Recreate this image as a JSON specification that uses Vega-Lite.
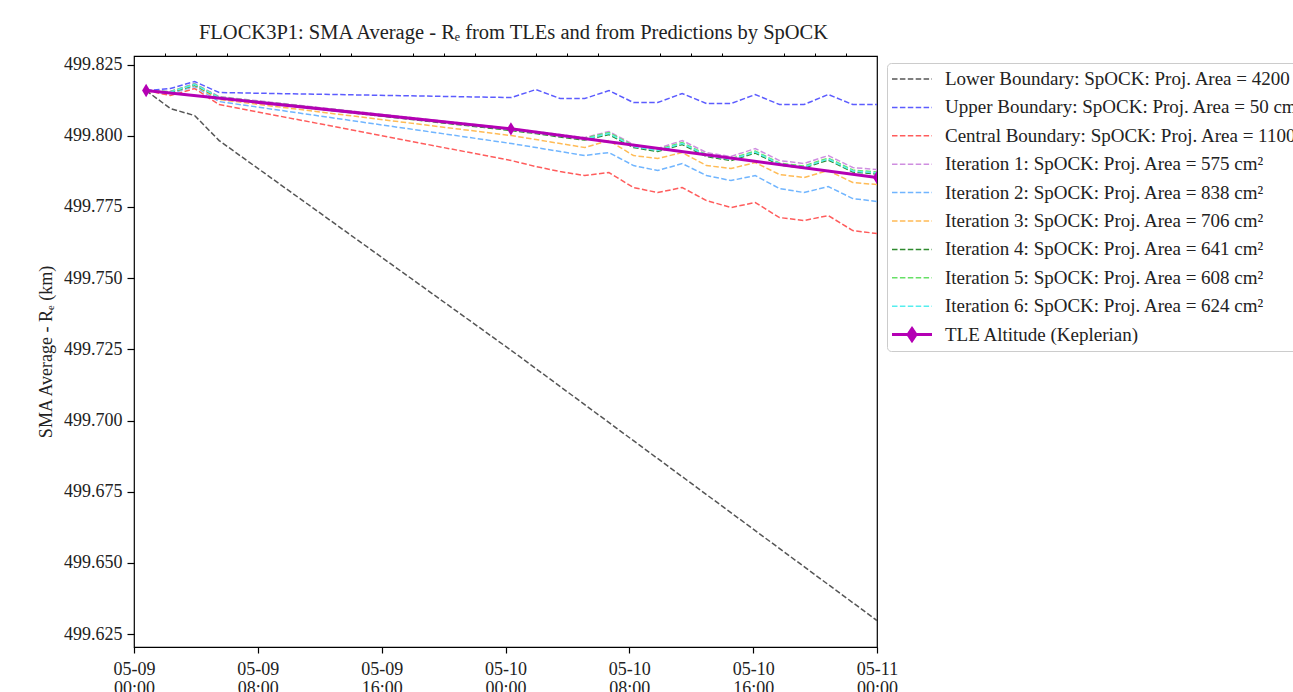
{
  "$schema": "https://vega.github.io/schema/vega-lite/v6.json",
  "width": 743,
  "height": 591,
  "autosize": {"type": "none"},
  "padding": {"left": 134, "top": 56, "right": 416, "bottom": 45},
  "background": "white",
  "title": {"text": "FLOCK3P1: SMA Average - Rₑ from TLEs and from Predictions by SpOCK", "font": "Liberation Serif", "fontSize": 20.5, "fontWeight": "normal", "color": "#222", "anchor": "middle", "frame": "group", "offset": 9, "dx": 8},
  "datasets": {
    "names": [
      {"code": "L", "name": "Lower Boundary: SpOCK: Proj. Area = 4200 cm²"},
      {"code": "U", "name": "Upper Boundary: SpOCK: Proj. Area = 50 cm²"},
      {"code": "C", "name": "Central Boundary: SpOCK: Proj. Area = 1100 cm²"},
      {"code": "I1", "name": "Iteration 1: SpOCK: Proj. Area = 575 cm²"},
      {"code": "I2", "name": "Iteration 2: SpOCK: Proj. Area = 838 cm²"},
      {"code": "I3", "name": "Iteration 3: SpOCK: Proj. Area = 706 cm²"},
      {"code": "I4", "name": "Iteration 4: SpOCK: Proj. Area = 641 cm²"},
      {"code": "I5", "name": "Iteration 5: SpOCK: Proj. Area = 608 cm²"},
      {"code": "I6", "name": "Iteration 6: SpOCK: Proj. Area = 624 cm²"},
      {"code": "T", "name": "TLE Altitude (Keplerian)"}
    ],
    "rows": [
      {"s": "L", "t": "2018-05-09T00:47", "v": 499.81587},
      {"s": "L", "t": "2018-05-09T02:21", "v": 499.80955},
      {"s": "L", "t": "2018-05-09T03:55", "v": 499.80709},
      {"s": "L", "t": "2018-05-09T05:30", "v": 499.79831},
      {"s": "L", "t": "2018-05-10T00:23", "v": 499.72459},
      {"s": "L", "t": "2018-05-11T00:00", "v": 499.62979},

      {"s": "U", "t": "2018-05-09T00:47", "v": 499.81587},
      {"s": "U", "t": "2018-05-09T02:21", "v": 499.81657},
      {"s": "U", "t": "2018-05-09T03:55", "v": 499.81903},
      {"s": "U", "t": "2018-05-09T05:30", "v": 499.81517},
      {"s": "U", "t": "2018-05-10T00:23", "v": 499.81341},
      {"s": "U", "t": "2018-05-10T01:58", "v": 499.81622},
      {"s": "U", "t": "2018-05-10T03:32", "v": 499.81306},
      {"s": "U", "t": "2018-05-10T05:07", "v": 499.81306},
      {"s": "U", "t": "2018-05-10T06:41", "v": 499.81587},
      {"s": "U", "t": "2018-05-10T08:16", "v": 499.81166},
      {"s": "U", "t": "2018-05-10T09:50", "v": 499.81166},
      {"s": "U", "t": "2018-05-10T11:25", "v": 499.81482},
      {"s": "U", "t": "2018-05-10T12:59", "v": 499.81131},
      {"s": "U", "t": "2018-05-10T14:34", "v": 499.81131},
      {"s": "U", "t": "2018-05-10T16:08", "v": 499.81447},
      {"s": "U", "t": "2018-05-10T17:42", "v": 499.81096},
      {"s": "U", "t": "2018-05-10T19:17", "v": 499.81096},
      {"s": "U", "t": "2018-05-10T20:51", "v": 499.81447},
      {"s": "U", "t": "2018-05-10T22:26", "v": 499.81096},
      {"s": "U", "t": "2018-05-11T00:00", "v": 499.81096},

      {"s": "C", "t": "2018-05-09T00:47", "v": 499.81587},
      {"s": "C", "t": "2018-05-09T02:21", "v": 499.81412},
      {"s": "C", "t": "2018-05-09T03:55", "v": 499.81657},
      {"s": "C", "t": "2018-05-09T05:30", "v": 499.81096},
      {"s": "C", "t": "2018-05-10T00:23", "v": 499.79129},
      {"s": "C", "t": "2018-05-10T01:58", "v": 499.78919},
      {"s": "C", "t": "2018-05-10T03:32", "v": 499.78743},
      {"s": "C", "t": "2018-05-10T05:07", "v": 499.78603},
      {"s": "C", "t": "2018-05-10T06:41", "v": 499.78708},
      {"s": "C", "t": "2018-05-10T08:16", "v": 499.78182},
      {"s": "C", "t": "2018-05-10T09:50", "v": 499.78006},
      {"s": "C", "t": "2018-05-10T11:25", "v": 499.78182},
      {"s": "C", "t": "2018-05-10T12:59", "v": 499.77725},
      {"s": "C", "t": "2018-05-10T14:34", "v": 499.77479},
      {"s": "C", "t": "2018-05-10T16:08", "v": 499.77655},
      {"s": "C", "t": "2018-05-10T17:42", "v": 499.77128},
      {"s": "C", "t": "2018-05-10T19:17", "v": 499.77023},
      {"s": "C", "t": "2018-05-10T20:51", "v": 499.77198},
      {"s": "C", "t": "2018-05-10T22:26", "v": 499.76672},
      {"s": "C", "t": "2018-05-11T00:00", "v": 499.76566},

      {"s": "I1", "t": "2018-05-09T00:47", "v": 499.81587},
      {"s": "I1", "t": "2018-05-09T02:21", "v": 499.81552},
      {"s": "I1", "t": "2018-05-09T03:55", "v": 499.81833},
      {"s": "I1", "t": "2018-05-09T05:30", "v": 499.81376},
      {"s": "I1", "t": "2018-05-10T00:23", "v": 499.80253},
      {"s": "I1", "t": "2018-05-10T01:58", "v": 499.80148},
      {"s": "I1", "t": "2018-05-10T03:32", "v": 499.80042},
      {"s": "I1", "t": "2018-05-10T05:07", "v": 499.79937},
      {"s": "I1", "t": "2018-05-10T06:41", "v": 499.80148},
      {"s": "I1", "t": "2018-05-10T08:16", "v": 499.79691},
      {"s": "I1", "t": "2018-05-10T09:50", "v": 499.79551},
      {"s": "I1", "t": "2018-05-10T11:25", "v": 499.79832},
      {"s": "I1", "t": "2018-05-10T12:59", "v": 499.79410},
      {"s": "I1", "t": "2018-05-10T14:34", "v": 499.79270},
      {"s": "I1", "t": "2018-05-10T16:08", "v": 499.79551},
      {"s": "I1", "t": "2018-05-10T17:42", "v": 499.79129},
      {"s": "I1", "t": "2018-05-10T19:17", "v": 499.79024},
      {"s": "I1", "t": "2018-05-10T20:51", "v": 499.79305},
      {"s": "I1", "t": "2018-05-10T22:26", "v": 499.78884},
      {"s": "I1", "t": "2018-05-11T00:00", "v": 499.78813},

      {"s": "I2", "t": "2018-05-09T00:47", "v": 499.81587},
      {"s": "I2", "t": "2018-05-09T02:21", "v": 499.81482},
      {"s": "I2", "t": "2018-05-09T03:55", "v": 499.81728},
      {"s": "I2", "t": "2018-05-09T05:30", "v": 499.81201},
      {"s": "I2", "t": "2018-05-10T00:23", "v": 499.79726},
      {"s": "I2", "t": "2018-05-10T01:58", "v": 499.79586},
      {"s": "I2", "t": "2018-05-10T03:32", "v": 499.79445},
      {"s": "I2", "t": "2018-05-10T05:07", "v": 499.79305},
      {"s": "I2", "t": "2018-05-10T06:41", "v": 499.79410},
      {"s": "I2", "t": "2018-05-10T08:16", "v": 499.78954},
      {"s": "I2", "t": "2018-05-10T09:50", "v": 499.78778},
      {"s": "I2", "t": "2018-05-10T11:25", "v": 499.79024},
      {"s": "I2", "t": "2018-05-10T12:59", "v": 499.78603},
      {"s": "I2", "t": "2018-05-10T14:34", "v": 499.78427},
      {"s": "I2", "t": "2018-05-10T16:08", "v": 499.78603},
      {"s": "I2", "t": "2018-05-10T17:42", "v": 499.78146},
      {"s": "I2", "t": "2018-05-10T19:17", "v": 499.78006},
      {"s": "I2", "t": "2018-05-10T20:51", "v": 499.78217},
      {"s": "I2", "t": "2018-05-10T22:26", "v": 499.77795},
      {"s": "I2", "t": "2018-05-11T00:00", "v": 499.77690},

      {"s": "I3", "t": "2018-05-09T00:47", "v": 499.81587},
      {"s": "I3", "t": "2018-05-09T02:21", "v": 499.81517},
      {"s": "I3", "t": "2018-05-09T03:55", "v": 499.81763},
      {"s": "I3", "t": "2018-05-09T05:30", "v": 499.81271},
      {"s": "I3", "t": "2018-05-10T00:23", "v": 499.80007},
      {"s": "I3", "t": "2018-05-10T01:58", "v": 499.79867},
      {"s": "I3", "t": "2018-05-10T03:32", "v": 499.79726},
      {"s": "I3", "t": "2018-05-10T05:07", "v": 499.79586},
      {"s": "I3", "t": "2018-05-10T06:41", "v": 499.79832},
      {"s": "I3", "t": "2018-05-10T08:16", "v": 499.79305},
      {"s": "I3", "t": "2018-05-10T09:50", "v": 499.79200},
      {"s": "I3", "t": "2018-05-10T11:25", "v": 499.79410},
      {"s": "I3", "t": "2018-05-10T12:59", "v": 499.78954},
      {"s": "I3", "t": "2018-05-10T14:34", "v": 499.78849},
      {"s": "I3", "t": "2018-05-10T16:08", "v": 499.79059},
      {"s": "I3", "t": "2018-05-10T17:42", "v": 499.78638},
      {"s": "I3", "t": "2018-05-10T19:17", "v": 499.78533},
      {"s": "I3", "t": "2018-05-10T20:51", "v": 499.78778},
      {"s": "I3", "t": "2018-05-10T22:26", "v": 499.78357},
      {"s": "I3", "t": "2018-05-11T00:00", "v": 499.78287},

      {"s": "I4", "t": "2018-05-09T00:47", "v": 499.81587},
      {"s": "I4", "t": "2018-05-09T02:21", "v": 499.81517},
      {"s": "I4", "t": "2018-05-09T03:55", "v": 499.81780},
      {"s": "I4", "t": "2018-05-09T05:30", "v": 499.81324},
      {"s": "I4", "t": "2018-05-10T00:23", "v": 499.80183},
      {"s": "I4", "t": "2018-05-10T01:58", "v": 499.80077},
      {"s": "I4", "t": "2018-05-10T03:32", "v": 499.79955},
      {"s": "I4", "t": "2018-05-10T05:07", "v": 499.79849},
      {"s": "I4", "t": "2018-05-10T06:41", "v": 499.80042},
      {"s": "I4", "t": "2018-05-10T08:16", "v": 499.79586},
      {"s": "I4", "t": "2018-05-10T09:50", "v": 499.79445},
      {"s": "I4", "t": "2018-05-10T11:25", "v": 499.79691},
      {"s": "I4", "t": "2018-05-10T12:59", "v": 499.79270},
      {"s": "I4", "t": "2018-05-10T14:34", "v": 499.79129},
      {"s": "I4", "t": "2018-05-10T16:08", "v": 499.79393},
      {"s": "I4", "t": "2018-05-10T17:42", "v": 499.78971},
      {"s": "I4", "t": "2018-05-10T19:17", "v": 499.78866},
      {"s": "I4", "t": "2018-05-10T20:51", "v": 499.79147},
      {"s": "I4", "t": "2018-05-10T22:26", "v": 499.78726},
      {"s": "I4", "t": "2018-05-11T00:00", "v": 499.78656},

      {"s": "I5", "t": "2018-05-09T00:47", "v": 499.81587},
      {"s": "I5", "t": "2018-05-09T02:21", "v": 499.81552},
      {"s": "I5", "t": "2018-05-09T03:55", "v": 499.81815},
      {"s": "I5", "t": "2018-05-09T05:30", "v": 499.81359},
      {"s": "I5", "t": "2018-05-10T00:23", "v": 499.80235},
      {"s": "I5", "t": "2018-05-10T01:58", "v": 499.80130},
      {"s": "I5", "t": "2018-05-10T03:32", "v": 499.80025},
      {"s": "I5", "t": "2018-05-10T05:07", "v": 499.79919},
      {"s": "I5", "t": "2018-05-10T06:41", "v": 499.80113},
      {"s": "I5", "t": "2018-05-10T08:16", "v": 499.79656},
      {"s": "I5", "t": "2018-05-10T09:50", "v": 499.79516},
      {"s": "I5", "t": "2018-05-10T11:25", "v": 499.79761},
      {"s": "I5", "t": "2018-05-10T12:59", "v": 499.79340},
      {"s": "I5", "t": "2018-05-10T14:34", "v": 499.79200},
      {"s": "I5", "t": "2018-05-10T16:08", "v": 499.79463},
      {"s": "I5", "t": "2018-05-10T17:42", "v": 499.79042},
      {"s": "I5", "t": "2018-05-10T19:17", "v": 499.78936},
      {"s": "I5", "t": "2018-05-10T20:51", "v": 499.79217},
      {"s": "I5", "t": "2018-05-10T22:26", "v": 499.78796},
      {"s": "I5", "t": "2018-05-11T00:00", "v": 499.78726},

      {"s": "I6", "t": "2018-05-09T00:47", "v": 499.81587},
      {"s": "I6", "t": "2018-05-09T02:21", "v": 499.81534},
      {"s": "I6", "t": "2018-05-09T03:55", "v": 499.81798},
      {"s": "I6", "t": "2018-05-09T05:30", "v": 499.81341},
      {"s": "I6", "t": "2018-05-10T00:23", "v": 499.80218},
      {"s": "I6", "t": "2018-05-10T01:58", "v": 499.80113},
      {"s": "I6", "t": "2018-05-10T03:32", "v": 499.79990},
      {"s": "I6", "t": "2018-05-10T05:07", "v": 499.79884},
      {"s": "I6", "t": "2018-05-10T06:41", "v": 499.80077},
      {"s": "I6", "t": "2018-05-10T08:16", "v": 499.79621},
      {"s": "I6", "t": "2018-05-10T09:50", "v": 499.79481},
      {"s": "I6", "t": "2018-05-10T11:25", "v": 499.79726},
      {"s": "I6", "t": "2018-05-10T12:59", "v": 499.79305},
      {"s": "I6", "t": "2018-05-10T14:34", "v": 499.79165},
      {"s": "I6", "t": "2018-05-10T16:08", "v": 499.79428},
      {"s": "I6", "t": "2018-05-10T17:42", "v": 499.79007},
      {"s": "I6", "t": "2018-05-10T19:17", "v": 499.78901},
      {"s": "I6", "t": "2018-05-10T20:51", "v": 499.79182},
      {"s": "I6", "t": "2018-05-10T22:26", "v": 499.78761},
      {"s": "I6", "t": "2018-05-11T00:00", "v": 499.78691},

      {"s": "T", "t": "2018-05-09T00:47", "v": 499.81587},
      {"s": "T", "t": "2018-05-10T00:21", "v": 499.80242},
      {"s": "T", "t": "2018-05-11T00:00", "v": 499.78533}
    ]
  },
  "data": {"name": "rows"},
  "transform": [
    {"lookup": "s", "from": {"data": {"name": "names"}, "key": "code", "fields": ["name"]}}
  ],
  "encoding": {
    "y": {
      "field": "v",
      "type": "quantitative",
      "scale": {"domain": [499.6205, 499.828], "nice": false, "zero": false},
      "axis": {
        "values": [499.625, 499.65, 499.675, 499.7, 499.725, 499.75, 499.775, 499.8, 499.825],
        "format": ".3f",
        "tickSize": 7, "tickWidth": 1.2, "tickColor": "#000",
        "domain": false, "grid": false,
        "labelFont": "Liberation Serif", "labelFontSize": 18, "labelColor": "#222", "labelPadding": 5,
        "title": "SMA Average - Rₑ (km)",
        "titleFont": "Liberation Serif", "titleFontSize": 18, "titleFontWeight": "normal", "titleColor": "#222", "titlePadding": 8
      }
    }
  },
  "layer": [
    {
      "transform": [{"filter": "datum.s !== 'T'"}],
      "mark": {"type": "line", "strokeDash": [5.5, 2.4], "strokeWidth": 1.5, "clip": true},
      "encoding": {
        "x": {
          "field": "t", "type": "temporal",
          "scale": {"domain": [{"year": 2018, "month": 5, "date": 9}, {"year": 2018, "month": 5, "date": 11}], "nice": false},
          "axis": {
            "values": [
              {"year": 2018, "month": 5, "date": 9, "hours": 0},
              {"year": 2018, "month": 5, "date": 9, "hours": 8},
              {"year": 2018, "month": 5, "date": 9, "hours": 16},
              {"year": 2018, "month": 5, "date": 10, "hours": 0},
              {"year": 2018, "month": 5, "date": 10, "hours": 8},
              {"year": 2018, "month": 5, "date": 10, "hours": 16},
              {"year": 2018, "month": 5, "date": 11, "hours": 0}
            ],
            "labelExpr": "[timeFormat(datum.value, '%m-%d'), timeFormat(datum.value, '%H:%M')]",
            "labelLineHeight": 19,
            "tickSize": 6, "tickWidth": 1.2, "tickColor": "#000",
            "labelPadding": 7,
            "labelFont": "Liberation Serif", "labelFontSize": 18, "labelColor": "#222",
            "labelFlush": false, "labelOverlap": false, "labelBound": false,
            "domain": false, "grid": false, "title": null
          }
        },
        "color": {
          "field": "name", "type": "nominal",
          "scale": {
            "domain": [
              "Lower Boundary: SpOCK: Proj. Area = 4200 cm²",
              "Upper Boundary: SpOCK: Proj. Area = 50 cm²",
              "Central Boundary: SpOCK: Proj. Area = 1100 cm²",
              "Iteration 1: SpOCK: Proj. Area = 575 cm²",
              "Iteration 2: SpOCK: Proj. Area = 838 cm²",
              "Iteration 3: SpOCK: Proj. Area = 706 cm²",
              "Iteration 4: SpOCK: Proj. Area = 641 cm²",
              "Iteration 5: SpOCK: Proj. Area = 608 cm²",
              "Iteration 6: SpOCK: Proj. Area = 624 cm²",
              "TLE Altitude (Keplerian)"
            ],
            "range": ["#555555", "#5c5cff", "#ff5c5c", "#cf8ee0", "#70b5ff", "#ffbb55", "#2f8a2f", "#66e066", "#55eeee", "#b400b4"]
          },
          "legend": {
            "title": null,
            "orient": "none", "legendX": 753, "legendY": 7,
            "padding": 4, "strokeColor": "#cccccc", "fillColor": "rgba(255,255,255,0.85)", "cornerRadius": 4,
            "symbolSize": 1600, "symbolType": "M-1,0L1,0", "symbolStrokeWidth": 1.5, "symbolDash": [5.5, 2.4],
            "labelFont": "Liberation Serif", "labelFontSize": 19, "labelColor": "#222", "labelOffset": 12, "labelLimit": 0,
            "clipHeight": 24, "rowPadding": 4.4,
            "encode": {
              "symbols": {
                "update": {
                  "x": {"value": 21},
                  "size": {"value": 1600},
                  "shape": {"signal": "datum.value === 'TLE Altitude (Keplerian)' ? 'M-1,0L1,0M0,-0.3L0.2,0L0,0.3L-0.2,0Z' : 'M-1,0L1,0'"},
                  "strokeDash": {"signal": "datum.value === 'TLE Altitude (Keplerian)' ? [1, 0] : [5.5, 2.4]"},
                  "strokeWidth": {"signal": "datum.value === 'TLE Altitude (Keplerian)' ? 3 : 1.5"},
                  "fill": {"signal": "datum.value === 'TLE Altitude (Keplerian)' ? '#b400b4' : 'transparent'"}
                }
              },
              "labels": {
                "update": {
                  "x": {"value": 54}
                }
              }
            }
          }
        }
      }
    },
    {
      "transform": [{"filter": "datum.s === 'T'"}],
      "mark": {"type": "line", "strokeWidth": 3, "clip": true},
      "encoding": {
        "x": {"field": "t", "type": "temporal", "axis": null},
        "color": {"field": "name", "type": "nominal"}
      }
    },
    {
      "transform": [{"filter": "datum.s === 'T'"}],
      "mark": {"type": "point", "shape": "M0,-1L0.6,0L0,1L-0.6,0Z", "size": 180, "filled": true, "color": "#b400b4", "opacity": 1, "clip": true},
      "encoding": {
        "x": {
          "field": "t", "type": "temporal",
          "axis": {
            "values": [
              {"year": 2018, "month": 5, "date": 9, "hours": 2},
              {"year": 2018, "month": 5, "date": 9, "hours": 4},
              {"year": 2018, "month": 5, "date": 9, "hours": 6},
              {"year": 2018, "month": 5, "date": 9, "hours": 10},
              {"year": 2018, "month": 5, "date": 9, "hours": 12},
              {"year": 2018, "month": 5, "date": 9, "hours": 14},
              {"year": 2018, "month": 5, "date": 9, "hours": 18},
              {"year": 2018, "month": 5, "date": 9, "hours": 20},
              {"year": 2018, "month": 5, "date": 9, "hours": 22},
              {"year": 2018, "month": 5, "date": 10, "hours": 2},
              {"year": 2018, "month": 5, "date": 10, "hours": 4},
              {"year": 2018, "month": 5, "date": 10, "hours": 6},
              {"year": 2018, "month": 5, "date": 10, "hours": 10},
              {"year": 2018, "month": 5, "date": 10, "hours": 12},
              {"year": 2018, "month": 5, "date": 10, "hours": 14},
              {"year": 2018, "month": 5, "date": 10, "hours": 18},
              {"year": 2018, "month": 5, "date": 10, "hours": 20},
              {"year": 2018, "month": 5, "date": 10, "hours": 22}
            ],
            "labels": false, "tickSize": 3, "tickWidth": 1, "tickColor": "#000",
            "domain": false, "grid": false, "title": null
          }
        }
      }
    }
  ],
  "resolve": {"axis": {"x": "independent"}},
  "config": {
    "view": {"stroke": "#000", "strokeWidth": 1.2},
    "font": "Liberation Serif"
  }
}
